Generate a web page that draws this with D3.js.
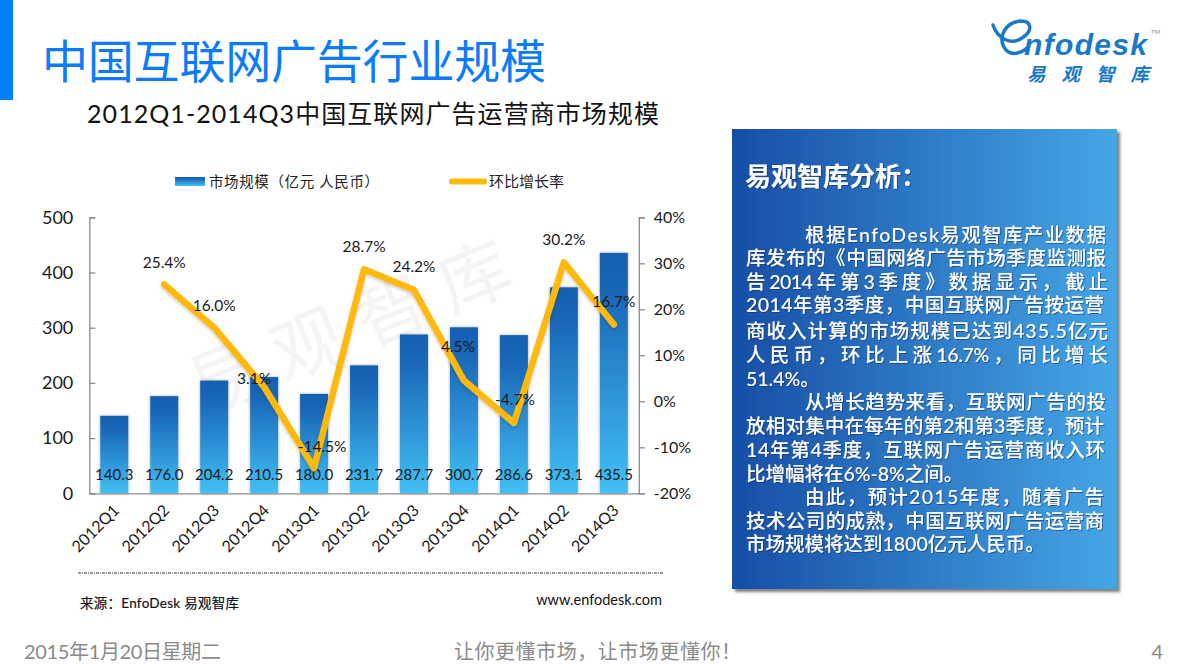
<!DOCTYPE html>
<html>
<head>
<meta charset="utf-8">
<script src="https://cdnjs.cloudflare.com/ajax/libs/d3/7.8.5/d3.min.js"></script>
<style>
  html, body { margin: 0; padding: 0; background: #fff; overflow: hidden; }
  svg { display: block; }
  text { font-family: Lato, "Noto Sans CJK SC", sans-serif; }
  .cjk { font-family: "Noto Sans CJK SC", sans-serif; }
</style>
</head>
<body>
<div id="root"></div>
<script>
const quarters = ['2012Q1', '2012Q2', '2012Q3', '2012Q4', '2013Q1', '2013Q2', '2013Q3', '2013Q4', '2014Q1', '2014Q2', '2014Q3'];
const marketSize = [140.3, 176.0, 204.2, 210.5, 180.0, 231.7, 287.7, 300.7, 286.6, 373.1, 435.5];
const growthRate = [null, 25.4, 16.0, 3.1, -14.5, 28.7, 24.2, 4.5, -4.7, 30.2, 16.7];
const leftTicks = [0, 100, 200, 300, 400, 500];
const rightTicks = [-20, -10, 0, 10, 20, 30, 40];

const panelLines = [
  '根据EnfoDesk易观智库产业数据',
  '库发布的《中国网络广告市场季度监测报',
  '告 2014 年 第 3 季 度 》 数 据 显 示 ， 截 止',
  '2014年第3季度，中国互联网广告按运营',
  '商收入计算的市场规模已达到435.5亿元',
  '人 民 币 ， 环 比 上 涨 16.7% ， 同 比 增 长',
  '51.4%。',
  '从增长趋势来看，互联网广告的投',
  '放相对集中在每年的第2和第3季度，预计',
  '14年第4季度，互联网广告运营商收入环',
  '比增幅将在6%-8%之间。',
  '由此，预计2015年度，随着广告',
  '技术公司的成熟，中国互联网广告运营商',
  '市场规模将达到1800亿元人民币。'
];

const w = 1184;
const h = 667;
const svg = d3.select('#root').append('svg').attr('width', w).attr('height', h);
const defs = svg.append('defs');

// gradients
const barGrad = defs.append('linearGradient').attr('id', 'barGrad').attr('x1', 0).attr('y1', 0).attr('x2', 0).attr('y2', 1);
barGrad.append('stop').attr('offset', '0%').attr('stop-color', '#1560b0');
barGrad.append('stop').attr('offset', '18%').attr('stop-color', '#1a68b8');
barGrad.append('stop').attr('offset', '100%').attr('stop-color', '#41c0f5');

const panelGrad = defs.append('linearGradient').attr('id', 'panelGrad').attr('x1', 0).attr('y1', 0).attr('x2', 1).attr('y2', 0);
panelGrad.append('stop').attr('offset', '0%').attr('stop-color', '#174ea6');
panelGrad.append('stop').attr('offset', '100%').attr('stop-color', '#45a6e5');

const barShadow = defs.append('filter').attr('id', 'barShadow').attr('x', '-20%').attr('y', '-5%').attr('width', '140%').attr('height', '110%');
barShadow.append('feDropShadow').attr('dx', 0).attr('dy', 0).attr('stdDeviation', 1.6).attr('flood-color', '#000').attr('flood-opacity', 0.35);

const lineShadow = defs.append('filter').attr('id', 'lineShadow').attr('x', '-5%').attr('y', '-5%').attr('width', '110%').attr('height', '110%');
lineShadow.append('feDropShadow').attr('dx', 0).attr('dy', 2).attr('stdDeviation', 1.5).attr('flood-color', '#000').attr('flood-opacity', 0.2);

const panelShadow = defs.append('filter').attr('id', 'panelShadow').attr('x', '-5%').attr('y', '-5%').attr('width', '110%').attr('height', '110%');
panelShadow.append('feDropShadow').attr('dx', 3).attr('dy', 3).attr('stdDeviation', 1.5).attr('flood-color', '#000').attr('flood-opacity', 0.5);

const textShadow = defs.append('filter').attr('id', 'textShadow').attr('x', '-5%').attr('y', '-20%').attr('width', '110%').attr('height', '140%');
textShadow.append('feDropShadow').attr('dx', 1).attr('dy', 1).attr('stdDeviation', 0.6).attr('flood-color', '#0b2c66').attr('flood-opacity', 0.6);

// header
svg.append('rect').attr('x', 0).attr('y', 0).attr('width', 13).attr('height', 100).attr('fill', '#0080ff');
svg.append('text').attr('class', 'cjk').attr('x', 42).attr('y', 78).attr('font-size', 46).attr('fill', '#0b7bfb')
  .attr('textLength', 504).attr('lengthAdjust', 'spacing').text('中国互联网广告行业规模');
svg.append('text').attr('x', 87).attr('y', 123).attr('font-size', 25).attr('fill', '#111')
  .attr('textLength', 572).attr('lengthAdjust', 'spacing').text('2012Q1-2014Q3中国互联网广告运营商市场规模');

// logo
const logo = svg.append('g').attr('fill', '#1a78c8');
logo.append('path')
  .attr('d', 'M993,25 C998,40 1012,45 1022,38 C1033,31 1032,21 1021,21 C1006,22 998,36 1004,47 C1009,57 1021,54 1028,47')
  .attr('fill', 'none').attr('stroke', '#1a78c8').attr('stroke-width', 3.5).attr('stroke-linecap', 'round');
logo.append('text').attr('x', 1024).attr('y', 55).attr('font-size', 30).attr('font-weight', 700).attr('font-style', 'italic')
  .style('font-family', '"Liberation Sans", sans-serif').attr('textLength', 123).attr('lengthAdjust', 'spacing').text('nfodesk');
logo.append('text').attr('class', 'cjk').attr('x', 1027).attr('y', 81).attr('font-size', 18.5).attr('font-weight', 700).attr('font-style', 'italic')
  .attr('textLength', 122).attr('lengthAdjust', 'spacing').text('易观智库');
logo.append('text').attr('x', 1151).attr('y', 34).attr('font-size', 6).attr('fill', '#7a8a99').text('TM');

// chart
const plot = { left: 89.3, right: 638.8, top: 217.3, bottom: 493.3 };
const x = d3.scaleBand().domain(quarters).range([plot.left, plot.right]).paddingInner(0.44).paddingOuter(0.22);
const yLeft = d3.scaleLinear().domain([0, 500]).range([plot.bottom, plot.top]);
const yRight = d3.scaleLinear().domain([-20, 40]).range([plot.bottom, plot.top]);
const cx = q => x(q) + x.bandwidth() / 2;

// watermark
svg.append('text').attr('class', 'cjk')
  .attr('transform', 'translate(360,330) rotate(-22)')
  .attr('text-anchor', 'middle').attr('dominant-baseline', 'middle')
  .attr('font-size', 72).attr('letter-spacing', 18).attr('fill', '#f4f4f4').text('易观智库');

svg.selectAll('.bar').data(quarters).enter().append('rect')
  .attr('class', 'bar')
  .attr('x', d => x(d))
  .attr('y', (d, i) => yLeft(marketSize[i]))
  .attr('width', x.bandwidth())
  .attr('height', (d, i) => plot.bottom - yLeft(marketSize[i]))
  .attr('fill', 'url(#barGrad)')
  .attr('filter', 'url(#barShadow)');

// axes
const axisColor = '#8c8c8c';
const styleAxis = g => {
  g.selectAll('.domain').attr('stroke', axisColor).attr('stroke-width', 1.3);
  g.selectAll('.tick line').attr('stroke', axisColor).attr('stroke-width', 1.3);
  g.selectAll('.tick text').attr('fill', '#1a1a1a');
};

const axisL = svg.append('g').attr('transform', `translate(${plot.left},0)`)
  .call(d3.axisRight(yLeft).tickValues(leftTicks).tickSize(6).tickSizeOuter(6).tickFormat(d3.format('d')))
  .call(styleAxis);
axisL.selectAll('.tick text').attr('x', -16).attr('text-anchor', 'end').attr('font-size', 18);

const axisR = svg.append('g').attr('transform', `translate(${plot.right},0)`)
  .call(d3.axisRight(yRight).tickValues(rightTicks).tickSize(6).tickSizeOuter(6).tickFormat(d => d + '%'))
  .call(styleAxis);
axisR.selectAll('.tick text').attr('x', 15).attr('text-anchor', 'start').attr('font-size', 16);

const axisX = svg.append('g').attr('transform', `translate(0,${plot.bottom})`)
  .call(d3.axisBottom(x).tickSize(0))
  .call(styleAxis);
axisX.selectAll('.tick text')
  .attr('font-size', 16)
  .attr('text-anchor', 'end')
  .attr('dy', 0)
  .attr('transform', 'translate(4,16) rotate(-45)');

// bar labels
svg.selectAll('.barLabel').data(quarters).enter().append('text')
  .attr('class', 'barLabel')
  .attr('x', d => cx(d))
  .attr('y', 480)
  .attr('text-anchor', 'middle')
  .attr('font-size', 15)
  .attr('fill', '#1a1a1a')
  .text((d, i) => marketSize[i].toFixed(1));

// growth line
const line = d3.line()
  .defined(d => d[1] !== null)
  .x(d => cx(d[0]))
  .y(d => yRight(d[1]));
svg.append('path')
  .datum(quarters.map((q, i) => [q, growthRate[i]]))
  .attr('d', line)
  .attr('fill', 'none')
  .attr('stroke', '#ffb908')
  .attr('stroke-width', 6.5)
  .attr('stroke-linejoin', 'round')
  .attr('stroke-linecap', 'round')
  .attr('filter', 'url(#lineShadow)');

// label offsets from each point, picked by eye
const labelNudge = [[0, 0], [0, -16], [0, -17], [-10, -3], [8, -16], [0, -17], [0, -18], [-6, -29], [1, -18], [0, -17], [0, -17]];
svg.selectAll('.rateLabel').data(quarters).enter().filter((d, i) => growthRate[i] !== null).append('text')
  .attr('class', 'rateLabel')
  .attr('x', d => cx(d) + labelNudge[quarters.indexOf(d)][0])
  .attr('y', d => yRight(growthRate[quarters.indexOf(d)]) + labelNudge[quarters.indexOf(d)][1])
  .attr('text-anchor', 'middle')
  .attr('font-size', 15.5)
  .attr('fill', '#1a1a1a')
  .text(d => growthRate[quarters.indexOf(d)].toFixed(1) + '%');

// legend
svg.append('rect').attr('x', 175).attr('y', 177).attr('width', 30).attr('height', 9).attr('fill', 'url(#barGrad)');
svg.append('text').attr('x', 209).attr('y', 187).attr('font-size', 14.5).attr('fill', '#222')
  .attr('textLength', 170).attr('lengthAdjust', 'spacing').text('市场规模（亿元 人民币）');
svg.append('line').attr('x1', 452).attr('x2', 484).attr('y1', 181.5).attr('y2', 181.5)
  .attr('stroke', '#ffb908').attr('stroke-width', 6).attr('stroke-linecap', 'round');
svg.append('text').attr('x', 489).attr('y', 187).attr('font-size', 15).attr('fill', '#222').text('环比增长率');

// source
svg.append('line').attr('x1', 78).attr('x2', 664).attr('y1', 573).attr('y2', 573)
  .attr('stroke', '#777').attr('stroke-width', 1.6).attr('stroke-dasharray', '3 1 1 1');
svg.append('text').attr('x', 80).attr('y', 608).attr('font-size', 13.5).attr('fill', '#111').attr('stroke', '#111').attr('stroke-width', 0.2)
  .attr('textLength', 159).attr('lengthAdjust', 'spacing').text('来源：EnfoDesk 易观智库');
svg.append('text').attr('x', 662).attr('y', 605).attr('text-anchor', 'end').attr('font-size', 14.5).attr('fill', '#111').text('www.enfodesk.com');

// panel
svg.append('rect').attr('x', 732).attr('y', 129).attr('width', 385).attr('height', 460)
  .attr('fill', 'url(#panelGrad)').attr('filter', 'url(#panelShadow)');
svg.append('text').attr('class', 'cjk').attr('x', 745).attr('y', 186).attr('font-size', 26).attr('font-weight', 700).attr('fill', '#fff')
  .attr('filter', 'url(#textShadow)').attr('textLength', 182).attr('lengthAdjust', 'spacing').text('易观智库分析：');

const panelY = [242, 265, 289, 312, 338, 362, 386, 409, 433, 457, 481, 504, 528, 551];
const lineX = [805, 746, 746, 746, 746, 746, 746, 805, 746, 746, 746, 805, 746, 746];
const lineEnd = [1106, 1106, 1108, 1104, 1108, 1108, null, 1106, 1104, 1105, null, 1104, 1104, null];
svg.selectAll('.panelLine').data(panelLines).enter().append('text')
  .attr('class', 'panelLine')
  .attr('x', (d, i) => lineX[i])
  .attr('y', (d, i) => panelY[i])
  .attr('font-size', 19.5)
  .attr('font-weight', 500)
  .attr('fill', '#fff')
  .attr('filter', 'url(#textShadow)')
  .attr('textLength', (d, i) => lineEnd[i] ? lineEnd[i] - lineX[i] : null)
  .attr('lengthAdjust', 'spacing')
  .text(d => d);

// footer
const footerColor = '#8a8a8a';
svg.append('text').attr('x', 24).attr('y', 659).attr('font-size', 20).attr('fill', footerColor)
  .attr('textLength', 197).attr('lengthAdjust', 'spacing').text('2015年1月20日星期二');
svg.append('text').attr('x', 454).attr('y', 659).attr('font-size', 20).attr('fill', footerColor)
  .attr('textLength', 287).attr('lengthAdjust', 'spacing').text('让你更懂市场，让市场更懂你！');
svg.append('text').attr('x', 1163).attr('y', 659).attr('text-anchor', 'end').attr('font-size', 20).attr('fill', footerColor).text('4');
</script>
</body>
</html>
